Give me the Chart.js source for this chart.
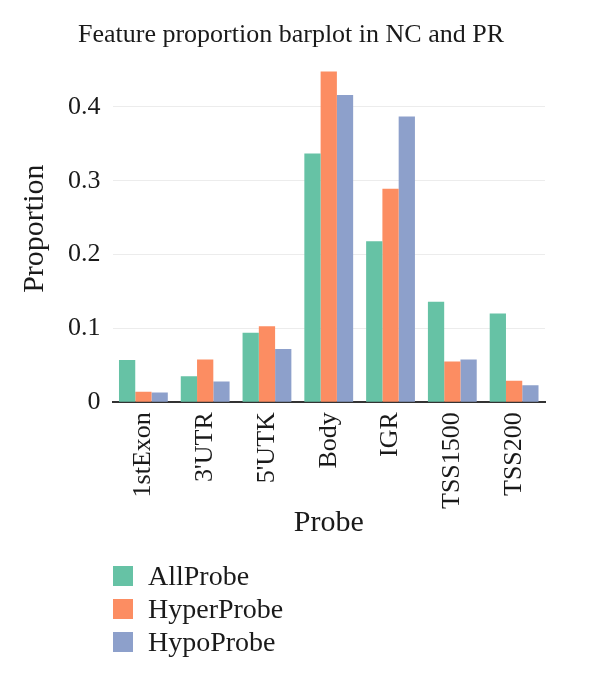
<!DOCTYPE html>
<html>
<head>
<meta charset="utf-8">
<script src="https://cdn.jsdelivr.net/npm/chart.js@4.4.1/dist/chart.umd.min.js"></script>
<style>
  body { margin: 0; background: #fff; }
  #wrap { position: relative; width: 600px; height: 681px; }
  #legend {
    position: absolute; left: 113px; top: 559px;
    font-family: "Liberation Serif", serif; font-size: 28px; color: #1a1a1a;
  }
  #legend div { display: flex; align-items: center; height: 33px; }
  #legend span.box { display: inline-block; width: 20px; height: 20px; margin-right: 15px; }
</style>
</head>
<body>
<div id="wrap">
  <canvas id="barChart" width="600" height="681"></canvas>
  <div id="legend"></div>
</div>
<script>
const categories = ["1stExon", "3'UTR", "5'UTK", "Body", "IGR", "TSS1500", "TSS200"];
const allProbe   = [0.057, 0.035, 0.094, 0.337, 0.218, 0.136, 0.120];
const hyperProbe = [0.014, 0.058, 0.103, 0.448, 0.289, 0.055, 0.029];
const hypoProbe  = [0.013, 0.028, 0.072, 0.416, 0.387, 0.058, 0.023];
const seriesNames = ["AllProbe", "HyperProbe", "HypoProbe"];
const colors = ["#66c2a5", "#fc8d62", "#8da0cb"];

const font = "'Liberation Serif', serif";
const ink = "#1a1a1a";

// legend is built as html so the items stack one per row
const htmlLegend = {
  id: "htmlLegend",
  afterUpdate(chart) {
    const box = document.getElementById("legend");
    box.innerHTML = "";
    chart.data.datasets.forEach((ds) => {
      const row = document.createElement("div");
      const sw = document.createElement("span");
      sw.className = "box";
      sw.style.background = ds.backgroundColor;
      row.appendChild(sw);
      row.appendChild(document.createTextNode(ds.label));
      box.appendChild(row);
    });
  },
};

const ctx = document.getElementById("barChart");
new Chart(ctx, {
  type: "bar",
  data: {
    labels: categories,
    datasets: [allProbe, hyperProbe, hypoProbe].map((vals, i) => ({
      label: seriesNames[i],
      data: vals,
      backgroundColor: colors[i],
      borderWidth: 0,
      categoryPercentage: 0.79,
      barPercentage: 1.0,
    })),
  },
  options: {
    responsive: false,
    animation: false,
    // left padding is wide so the title centres where the reference has it
    layout: { padding: { left: 37, right: 55, top: 11, bottom: 126 } },
    plugins: {
      legend: { display: false },
      tooltip: { enabled: false },
      title: {
        display: true,
        text: "Feature proportion barplot in NC and PR",
        color: ink,
        font: { family: font, size: 26, weight: "normal" },
        padding: { top: 9, bottom: 4 },
      },
    },
    scales: {
      x: {
        grid: { display: false, drawTicks: false },
        border: { display: true, color: "#333", width: 2 },
        ticks: {
          color: ink,
          font: { family: font, size: 26 },
          minRotation: 90,
          maxRotation: 90,
          padding: 10,
        },
        title: {
          display: true,
          text: "Probe",
          color: ink,
          font: { family: font, size: 30 },
          padding: { top: -14, bottom: 14 },
        },
      },
      y: {
        min: 0,
        max: 0.47,
        grid: { color: "#ececec", lineWidth: 1, drawTicks: false },
        border: { display: false },
        ticks: {
          stepSize: 0.1,
          includeBounds: false,
          color: ink,
          font: { family: font, size: 26 },
          padding: 12,
        },
        title: {
          display: true,
          text: "Proportion",
          color: ink,
          font: { family: font, size: 30 },
          padding: { top: -20, bottom: 3 },
        },
      },
    },
  },
  plugins: [htmlLegend],
});
</script>
</body>
</html>
